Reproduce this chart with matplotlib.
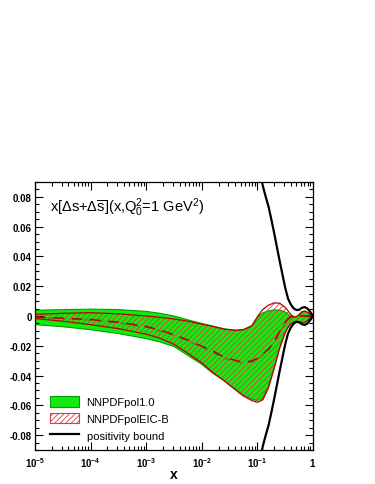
import numpy as np
import matplotlib
matplotlib.use("Agg")
import matplotlib.pyplot as plt
from matplotlib.patches import Patch
from matplotlib.lines import Line2D
from matplotlib.ticker import MultipleLocator, LogLocator, NullFormatter

plt.rcParams['font.family'] = ['Liberation Sans', 'DejaVu Sans']
plt.rcParams['mathtext.fontset'] = 'custom'
plt.rcParams['mathtext.rm'] = 'Liberation Sans'
plt.rcParams['mathtext.it'] = 'Liberation Sans:italic'
plt.rcParams['mathtext.bf'] = 'Liberation Sans:bold'
plt.rcParams['mathtext.default'] = 'regular'
plt.rcParams['hatch.linewidth'] = 0.6

# ---------------- data ----------------
log10_x = [-5.0, -4.5, -4.0, -3.5, -3.0, -2.75, -2.5, -2.25, -2.0, -1.8, -1.6, -1.4, -1.25, -1.1,
           -1.0, -0.9, -0.8, -0.7, -0.6, -0.5, -0.45, -0.4, -0.35, -0.3, -0.25, -0.2, -0.15,
           -0.1, -0.05, 0.0]

pol10_upper = [0.0038, 0.0043, 0.0046, 0.0043, 0.0031, 0.0018, 0.0000, -0.0026, -0.0050, -0.0068,
               -0.0086, -0.0095, -0.0091, -0.0064, -0.0010, 0.0022, 0.0034, 0.0041, 0.0040, 0.0027,
               0.0012, -0.0003, -0.0010, -0.0008, 0.0008, 0.0028, 0.0033, 0.0025, 0.0012, 0.0]
pol10_lower = [-0.0058, -0.0072, -0.0092, -0.0118, -0.0152, -0.0175, -0.0205, -0.0265, -0.0325,
               -0.0385, -0.0433, -0.0490, -0.0530, -0.0558, -0.0568, -0.0548, -0.0470, -0.0345,
               -0.0210, -0.0108, -0.0075, -0.0052, -0.0040, -0.0035, -0.0038, -0.0043, -0.0042,
               -0.0030, -0.0015, 0.0]
pol10_central = [-0.0010, -0.0018, -0.0028, -0.0046, -0.0075, -0.0100, -0.0130, -0.0168, -0.0210,
                 -0.0245, -0.0284, -0.0306, -0.0316, -0.0310, -0.0292, -0.0262, -0.0228, -0.0178,
                 -0.0110, -0.0048, -0.0024, -0.0009, -0.0002, 0.0, 0.0, 0.0, 0.0, 0.0, 0.0, 0.0]

eic_upper = [0.0011, 0.0018, 0.0022, 0.0015, 0.0000, -0.0009, -0.0020, -0.0035, -0.0055, -0.0070,
             -0.0088, -0.0097, -0.0092, -0.0066, -0.0005, 0.0045, 0.0073, 0.0088, 0.0086, 0.0058,
             0.0035, 0.0010, -0.0004, -0.0005, 0.0010, 0.0028, 0.0033, 0.0025, 0.0012, 0.0]
eic_lower = [-0.0017, -0.0035, -0.0058, -0.0085, -0.0122, -0.0150, -0.0190, -0.0250, -0.0315,
             -0.0380, -0.0435, -0.0495, -0.0538, -0.0568, -0.0580, -0.0562, -0.0482, -0.0355,
             -0.0218, -0.0112, -0.0078, -0.0054, -0.0041, -0.0036, -0.0039, -0.0045, -0.0044,
             -0.0031, -0.0016, 0.0]
eic_central = [-0.0007, -0.0015, -0.0024, -0.0042, -0.0070, -0.0095, -0.0125, -0.0162, -0.0203,
               -0.0235, -0.0276, -0.0298, -0.0310, -0.0302, -0.0285, -0.0255, -0.0222, -0.0172,
               -0.0105, -0.0044, -0.0020, -0.0006, 0.0, 0.0, 0.0, 0.0, 0.0, 0.0, 0.0, 0.0]

bound_log10_x = [-1.1, -1.0, -0.95, -0.9, -0.85, -0.8, -0.75, -0.7, -0.65, -0.6, -0.55, -0.5,
                 -0.45, -0.4, -0.35, -0.3, -0.25, -0.2, -0.15, -0.1, -0.05, 0.0]
bound_upper = [0.122, 0.104, 0.096, 0.087, 0.080, 0.0735, 0.065, 0.056, 0.0465, 0.037, 0.028, 0.019,
               0.0118, 0.0078, 0.0052, 0.0040, 0.0042, 0.0055, 0.0060, 0.0050, 0.0028, 0.0]

y_ticks = [-0.08, -0.06, -0.04, -0.02, 0.0, 0.02, 0.04, 0.06, 0.08]
y_tick_labels = ['-0.08', '-0.06', '-0.04', '-0.02', '0', '0.02', '0.04', '0.06', '0.08']
x_ticks = [1e-5, 1e-4, 1e-3, 1e-2, 1e-1, 1.0]
x_tick_labels = [r'$\mathbf{10^{-5}}$', r'$\mathbf{10^{-4}}$', r'$\mathbf{10^{-3}}$',
                 r'$\mathbf{10^{-2}}$', r'$\mathbf{10^{-1}}$', r'$\mathbf{1}$']

series_labels = ['NNPDFpol1.0', 'NNPDFpolEIC-B', 'positivity bound']
title_text = r'x[Δs+Δ$\overline{s}$](x,Q$_{0}^{2}$=1 GeV$^{2}$)'

# ---------------- figure ----------------
x = 10.0 ** np.array(log10_x)
xb = 10.0 ** np.array(bound_log10_x)

fig = plt.figure(figsize=(3.75, 4.85), dpi=100)
ax = fig.add_axes([35 / 375, 1 - 451 / 485, 278 / 375, 268 / 485])

GREEN = '#10ec10'
GREEN_EDGE = '#00a000'
RED = '#b80000'
HATCH = '#d84040'

ax.fill_between(x, pol10_lower, pol10_upper, facecolor=GREEN, edgecolor='none', zorder=1)
ax.plot(x, pol10_upper, color=GREEN_EDGE, lw=0.8, zorder=2)
ax.plot(x, pol10_lower, color=GREEN_EDGE, lw=0.8, zorder=2)
ax.plot(x, pol10_central, color='#3c7a3c', lw=0.8, ls=(0, (6, 5)), zorder=2)

ax.fill_between(x, eic_lower, eic_upper, facecolor='none', edgecolor=HATCH,
                hatch='//////', linewidth=0, zorder=3)
ax.plot(x, eic_upper, color=RED, lw=0.9, zorder=4)
ax.plot(x, eic_lower, color=RED, lw=0.9, zorder=4)
ax.plot(x, eic_central, color=RED, lw=1.1, ls=(0, (7, 5)), zorder=4)

ax.plot(xb, bound_upper, color='black', lw=1.6, zorder=5)
ax.plot(xb, -np.array(bound_upper), color='black', lw=1.6, zorder=5)

ax.set_xscale('log')
ax.set_xlim(1e-5, 1.0)
ax.set_ylim(-0.09, 0.09)

ax.set_yticks(y_ticks)
ax.set_yticklabels(y_tick_labels, fontsize=7, fontweight='bold')
ax.yaxis.set_minor_locator(MultipleLocator(0.005))
ax.set_xticks(x_ticks)
ax.set_xticklabels(x_tick_labels, fontsize=7)
ax.xaxis.set_minor_locator(LogLocator(base=10, subs=np.arange(2, 10), numticks=20))
ax.xaxis.set_minor_formatter(NullFormatter())

ax.tick_params(which='both', direction='in', top=True, right=True, width=0.8, color='black')
ax.tick_params(which='major', length=5.5)
ax.tick_params(which='minor', length=2.8)
ax.tick_params(axis='y', pad=2.5)
ax.tick_params(axis='x', pad=4)
for s in ax.spines.values():
    s.set_linewidth(0.9)

ax.set_xlabel('x', fontsize=10, fontweight='bold', va='center')
ax.xaxis.set_label_coords(0.5, -(475 - 451) / 268)

ax.text(0.054, 0.893, title_text, transform=ax.transAxes, fontsize=10.5,
        ha='left', va='baseline')

handles = [Patch(facecolor=GREEN, edgecolor=GREEN_EDGE, linewidth=0.8),
           Patch(facecolor='white', edgecolor=HATCH, hatch='//////', linewidth=0.8),
           Line2D([0], [0], color='black', lw=1.6)]
ax.legend(handles, series_labels, loc='lower left', bbox_to_anchor=(0.054, 0.035),
          frameon=False, fontsize=8, handlelength=2.64, handleheight=1.08,
          handletextpad=0.65, labelspacing=0.5, borderpad=0, borderaxespad=0)

fig.savefig('out.png', dpi=100)
